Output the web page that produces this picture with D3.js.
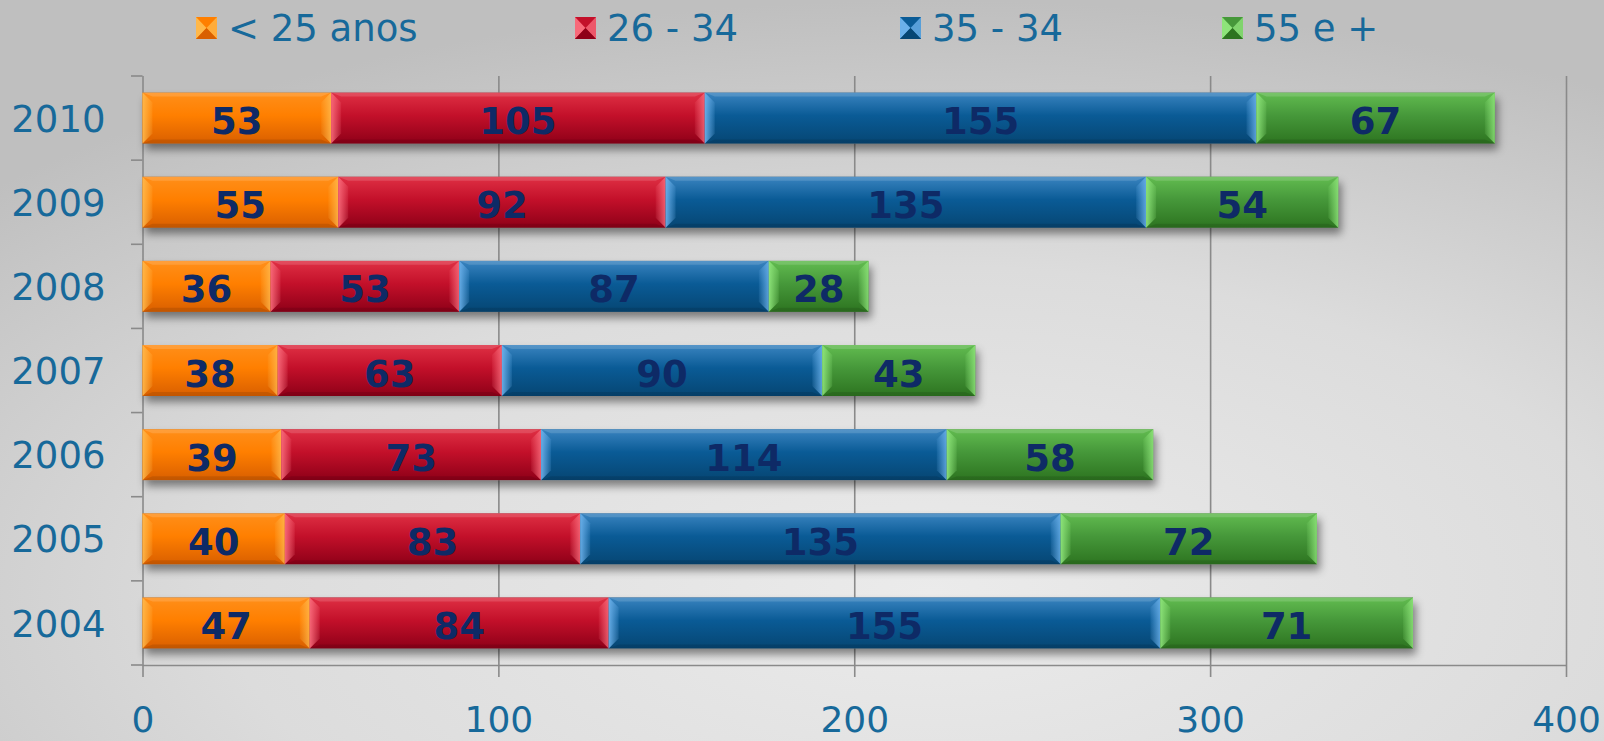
<!DOCTYPE html>
<html><head><meta charset="utf-8">
<script src="https://cdn.jsdelivr.net/npm/d3@7/dist/d3.min.js"></script>
<style>html,body{margin:0;padding:0;overflow:hidden;background:#d8d8d8}</style>
</head><body>
<svg id="c" width="1604" height="741"></svg>
<script>
const years = ["2010","2009","2008","2007","2006","2005","2004"];
const seriesNames = ["< 25 anos","26 - 34","35 - 34","55 e +"];
const s1 = [53,55,36,38,39,40,47];
const s2 = [105,92,53,63,73,83,84];
const s3 = [155,135,87,90,114,135,155];
const s4 = [67,54,28,43,58,72,71];
const xTicks = [0,100,200,300,400];

const colors = [
  {top:"#ff8f1a", mid:"#ff7f00", bot:"#d95f00", light:"#ffb84a"},
  {top:"#df3044", mid:"#c3102a", bot:"#8e0018", light:"#f86a7a"},
  {top:"#3a84c0", mid:"#0a5b96", bot:"#064673", light:"#6ab0ea"},
  {top:"#62bc50", mid:"#46983a", bot:"#2d7420", light:"#8ee47a"}
];
const textBlue = "#17699a";
const labelNavy = "#0e2a66";

const svg = d3.select("#c");
const defs = svg.append("defs");
const bg = defs.append("radialGradient").attr("id","bg").attr("cx","0.58").attr("cy","0.8").attr("r","0.8");
bg.append("stop").attr("offset","0").attr("stop-color","#ebebeb");
bg.append("stop").attr("offset","0.55").attr("stop-color","#dcdcdc");
bg.append("stop").attr("offset","1").attr("stop-color","#bfbfbf");
svg.append("rect").attr("width",1604).attr("height",741).attr("fill","url(#bg)");

colors.forEach((c,i)=>{
  const g = defs.append("linearGradient").attr("id","g"+i).attr("x1",0).attr("y1",0).attr("x2",0).attr("y2",1);
  g.append("stop").attr("offset","0").attr("stop-color",c.top);
  g.append("stop").attr("offset","0.45").attr("stop-color",c.mid);
  g.append("stop").attr("offset","1").attr("stop-color",c.bot);
  const bl = defs.append("linearGradient").attr("id","bl"+i).attr("x1",0).attr("y1",0).attr("x2",1).attr("y2",0);
  bl.append("stop").attr("offset","0").attr("stop-color",c.light).attr("stop-opacity",0.95);
  bl.append("stop").attr("offset","1").attr("stop-color",c.light).attr("stop-opacity",0.15);
  const br = defs.append("linearGradient").attr("id","br"+i).attr("x1",1).attr("y1",0).attr("x2",0).attr("y2",0);
  br.append("stop").attr("offset","0").attr("stop-color",c.light).attr("stop-opacity",0.85);
  br.append("stop").attr("offset","1").attr("stop-color",c.light).attr("stop-opacity",0.1);
});
const f = defs.append("filter").attr("id","sh").attr("x","-5%").attr("y","-30%").attr("width","110%").attr("height","170%");
f.append("feDropShadow").attr("dx",3).attr("dy",6).attr("stdDeviation",4).attr("flood-color","#000").attr("flood-opacity",0.45);

const x = d3.scaleLinear().domain([0,400]).range([142.5,1566]);
const y = d3.scaleBand().domain(years).range([76,665]).paddingInner(0.394).paddingOuter(0.197);

// gridlines + bottom axis
const gx = svg.append("g").attr("transform","translate(0,665)")
  .call(d3.axisBottom(x).tickValues(xTicks).tickSize(12).tickFormat(d3.format("d")));
gx.select(".domain").attr("stroke","#8a8a8a").attr("stroke-width",1.6).attr("d","M142.5,0.5H1566");
gx.selectAll(".tick line").attr("stroke","#8a8a8a").attr("stroke-width",1.6).attr("y1",-589).attr("y2",12);
gx.selectAll(".tick text").attr("fill",textBlue).attr("font-family","DejaVu Sans, Verdana, sans-serif")
  .attr("font-size",36).attr("dy",null).attr("y",67);

// left axis with boundary ticks
const ga = svg.append("g").attr("transform","translate(142.5,0)")
  .call(d3.axisLeft(y).tickSize(0).tickPadding(37));
ga.select(".domain").remove();
ga.selectAll(".tick text").attr("fill",textBlue).attr("font-family","DejaVu Sans, Verdana, sans-serif")
  .attr("font-size",37).attr("dy","0.37em");
const bounds = d3.range(years.length+1).map(k=>76 + k*y.step());
svg.append("g").selectAll("line").data(bounds).join("line")
  .attr("x1",131).attr("x2",142.5).attr("y1",d=>d).attr("y2",d=>d)
  .attr("stroke","#8a8a8a").attr("stroke-width",1.6);

// stacked data
const rows = years.map((yr,i)=>({year:yr, v:[s1[i],s2[i],s3[i],s4[i]]}));
const keys = [0,1,2,3];
const stack = d3.stack().keys(keys).value((d,k)=>d.v[k])(rows);

const bars = svg.append("g");
// shadows
bars.append("g").selectAll("rect").data(rows).join("rect")
  .attr("x",x(0)).attr("y",d=>y(d.year)).attr("height",y.bandwidth())
  .attr("width",d=>x(d3.sum(d.v))-x(0)).attr("fill","#777").attr("filter","url(#sh)");

const b = 10;
stack.forEach((layer,si)=>{
  const g = bars.append("g");
  layer.forEach((seg)=>{
    const x0 = x(seg[0]), x1 = x(seg[1]);
    const y0 = y(seg.data.year), y1 = y0 + y.bandwidth();
    g.append("rect").attr("x",x0).attr("y",y0).attr("width",x1-x0).attr("height",y1-y0).attr("fill","url(#g"+si+")");
    g.append("path").attr("d",`M${x0},${y0}L${x1},${y0}L${x1-b},${y0+4}L${x0+b},${y0+4}Z`).attr("fill","#fff").attr("opacity",0.14);
    g.append("path").attr("d",`M${x0},${y1}L${x1},${y1}L${x1-b},${y1-4}L${x0+b},${y1-4}Z`).attr("fill","#000").attr("opacity",0.1);
    g.append("path").attr("d",`M${x0},${y0}L${x0+b},${y0+b}L${x0+b},${y1-b}L${x0},${y1}Z`).attr("fill","url(#bl"+si+")");
    g.append("path").attr("d",`M${x1},${y0}L${x1-b},${y0+b}L${x1-b},${y1-b}L${x1},${y1}Z`).attr("fill","url(#br"+si+")");
    g.append("text").attr("x",(x0+x1)/2).attr("y",(y0+y1)/2+16)
      .attr("text-anchor","middle").attr("font-family","DejaVu Sans, Verdana, sans-serif")
      .attr("font-weight","bold").attr("font-size",37).attr("fill",labelNavy)
      .text(seg.data.v[si]);
  });
});

// legend
const legX = [196,575,900,1222];
const lg = svg.append("g");
seriesNames.forEach((n,i)=>{
  const lx = legX[i], ly = 17, w = 21, h = 22, c = colors[i];
  const g = lg.append("g");
  g.append("rect").attr("x",lx).attr("y",ly).attr("width",w).attr("height",h).attr("fill",c.mid);
  g.append("path").attr("d",`M${lx},${ly}L${lx+w/2},${ly+h/2}L${lx},${ly+h}Z`).attr("fill",c.light);
  g.append("path").attr("d",`M${lx+w},${ly}L${lx+w/2},${ly+h/2}L${lx+w},${ly+h}Z`).attr("fill",c.light).attr("opacity",0.8);
  g.append("path").attr("d",`M${lx},${ly+h}L${lx+w/2},${ly+h/2}L${lx+w},${ly+h}Z`).attr("fill",c.bot);
  g.append("text").attr("x",lx+32).attr("y",41).attr("fill",textBlue)
    .attr("font-family","DejaVu Sans, Verdana, sans-serif").attr("font-size",37).text(n);
});
</script>
</body></html>
